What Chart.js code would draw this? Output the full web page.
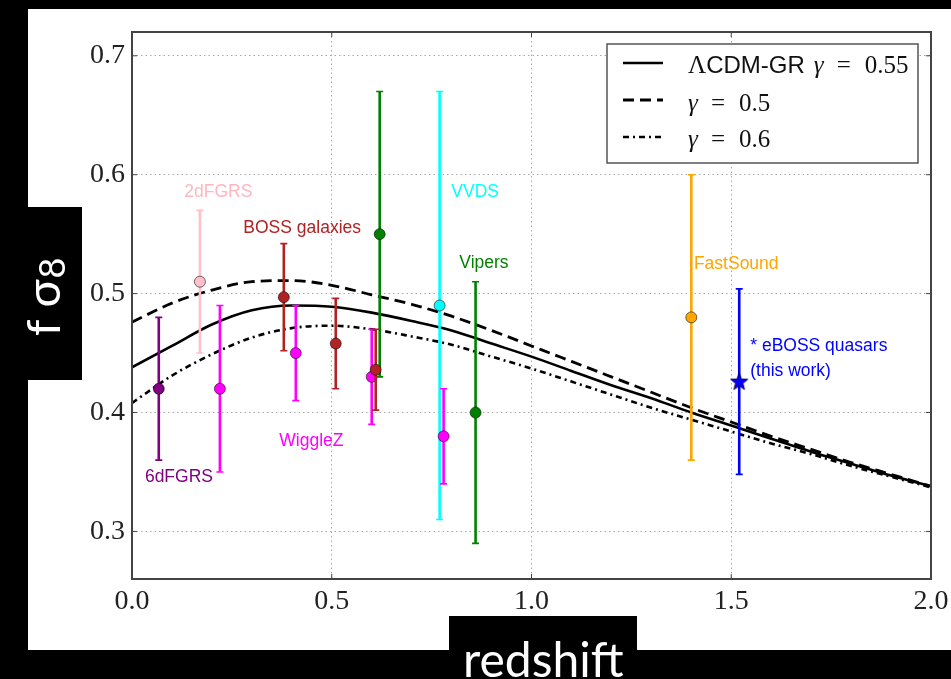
<!DOCTYPE html>
<html>
<head>
<meta charset="utf-8">
<script src="https://cdn.jsdelivr.net/npm/chart.js@4.4.0/dist/chart.umd.min.js"></script>
<style>
  html, body { margin: 0; padding: 0; background: #000; width: 951px; height: 679px; overflow: hidden; }
  canvas { display: block; }
</style>
</head>
<body>
<canvas id="c" width="951" height="679"></canvas>
<script>
// model curves (fσ8 vs redshift)
const zGrid = [0, 0.1, 0.2, 0.3, 0.4, 0.5, 0.6, 0.7, 0.8, 0.9, 1.0, 1.1, 1.2, 1.3, 1.4, 1.5, 1.6, 1.7, 1.8, 1.9, 2.0]
const fs8GR = [0.438, 0.456, 0.474, 0.486, 0.490, 0.489, 0.484, 0.477, 0.469, 0.458, 0.447, 0.435, 0.423, 0.412, 0.400, 0.389, 0.378, 0.367, 0.357, 0.347, 0.338]
const fs8Gamma05 = [0.476, 0.492, 0.503, 0.510, 0.511, 0.507, 0.499, 0.491, 0.481, 0.469, 0.456, 0.443, 0.430, 0.417, 0.404, 0.392, 0.380, 0.369, 0.358, 0.348, 0.338]
const fs8Gamma06 = [0.408, 0.431, 0.449, 0.463, 0.471, 0.473, 0.470, 0.464, 0.457, 0.447, 0.437, 0.426, 0.415, 0.404, 0.394, 0.384, 0.374, 0.365, 0.355, 0.346, 0.337]

// measurements
const z6dF = [0.067], fs6dF = [0.42], err6dF = [0.06]
const z2dF = [0.17], fs2dF = [0.51], err2dF = [0.06]
const zBossGal = [0.38, 0.51, 0.61], fsBossGal = [0.497, 0.458, 0.436], errBossGal = [0.045, 0.038, 0.034]
const zWiggleZ = [0.22, 0.41, 0.60, 0.78], fsWiggleZ = [0.42, 0.45, 0.43, 0.38], errWiggleZ = [0.07, 0.04, 0.04, 0.04]
const zVipers = [0.62, 0.86], fsVipers = [0.55, 0.40], errVipers = [0.12, 0.11]
const zVVDS = [0.77], fsVVDS = [0.49], errVVDS = [0.18]
const zFastSound = [1.40], fsFastSound = [0.48], errFastSound = [0.12]
const zQuasars = [1.52], fsQuasars = [0.426], errQuasars = [0.078]

const xTicks = [0.0, 0.5, 1.0, 1.5, 2.0]
const yTicks = [0.3, 0.4, 0.5, 0.6, 0.7]

const pts = (xs, ys) => xs.map((x, i) => ({ x, y: ys[i] }))

// filled five point star for the eBOSS point
function makeStar(fill, edge) {
    const c = document.createElement("canvas")
    c.width = 20; c.height = 20
    const g = c.getContext("2d")
    g.beginPath()
    for (let i = 0; i < 10; i++) {
        const r = i % 2 === 0 ? 9 : 3.8
        const a = -Math.PI / 2 + i * Math.PI / 5
        g.lineTo(10 + r * Math.cos(a), 10.5 + r * Math.sin(a))
    }
    g.closePath()
    g.fillStyle = fill
    g.fill()
    g.lineWidth = 1
    g.strokeStyle = edge
    g.stroke()
    return c
}

function survey(label, xs, ys, errs, color, extra) {
    return Object.assign({
        type: "scatter",
        label,
        data: pts(xs, ys),
        errors: errs,
        backgroundColor: color,
        barColor: color,
        borderColor: "rgba(0,0,0,0.55)",
        borderWidth: 1,
        pointRadius: 5.5,
        pointHoverRadius: 5.5,
        order: 1
    }, extra || {})
}

function curve(label, ys, dash, width) {
    return {
        type: "line",
        label,
        data: pts(zGrid, ys),
        borderColor: "#000",
        borderWidth: width,
        borderDash: dash,
        pointRadius: 0,
        cubicInterpolationMode: "monotone",
        fill: false,
        order: 2
    }
}

const surveyLabels = [
    { text: "2dFGRS", z: 0.216, f: 0.585, color: "#FFB6C1", align: "center" },
    { text: "BOSS galaxies", z: 0.426, f: 0.555, color: "#B22222", align: "center" },
    { text: "WiggleZ", z: 0.449, f: 0.3755, color: "#FF00FF", align: "center" },
    { text: "6dFGRS", z: 0.1175, f: 0.3458, color: "#800080", align: "center" },
    { text: "VVDS", z: 0.859, f: 0.585, color: "#00FFFF", align: "center" },
    { text: "Vipers", z: 0.881, f: 0.5254, color: "#008000", align: "center" },
    { text: "FastSound", z: 1.5125, f: 0.525, color: "#FFA500", align: "center" },
    { text: "* eBOSS quasars", z: 1.5475, f: 0.4558, color: "#0000FF", align: "left" },
    { text: "(this work)", z: 1.5475, f: 0.4346, color: "#0000FF", align: "left" }
]

// black surround, white figure
const background = {
    id: "background",
    beforeDraw(chart) {
        const ctx = chart.ctx
        ctx.save()
        ctx.fillStyle = "#000"
        ctx.fillRect(0, 0, chart.width, chart.height)
        ctx.fillStyle = "#fff"
        ctx.fillRect(28, 9, 923, 641)
        ctx.restore()
    },
    afterDraw(chart) {
        const ctx = chart.ctx
        ctx.save()
        ctx.fillStyle = "#000"
        ctx.fillRect(0, 207, 82, 173)
        ctx.fillRect(449, 616, 188, 63)
        ctx.fillStyle = "#fff"
        // x title
        ctx.font = "48px Lato"
        ctx.textBaseline = "alphabetic"
        ctx.fillText("redshift", 463, 677)
        // y title, rotated
        ctx.translate(60, 336)
        ctx.rotate(-Math.PI / 2)
        ctx.font = "47px Lato"
        ctx.fillText("f σ", 0, 0)
        const w = ctx.measureText("f σ").width
        ctx.font = "36px Lato"
        ctx.fillText("8", w + 1, 5)
        ctx.restore()
    }
}

// vertical error bars with small caps
const errorBars = {
    id: "errorBars",
    beforeDatasetDraw(chart, args) {
        const ds = chart.data.datasets[args.index]
        if (!ds.errors) return
        const xs = chart.scales.x, ys = chart.scales.y
        const ctx = chart.ctx
        ctx.save()
        ctx.strokeStyle = ds.barColor
        ds.data.forEach((p, i) => {
            const px = xs.getPixelForValue(p.x)
            const top = ys.getPixelForValue(p.y + ds.errors[i])
            const bot = ys.getPixelForValue(p.y - ds.errors[i])
            ctx.lineWidth = 2.6
            ctx.beginPath()
            ctx.moveTo(px, top)
            ctx.lineTo(px, bot)
            ctx.stroke()
            ctx.lineWidth = 1.6
            ctx.beginPath()
            ctx.moveTo(px - 3.5, top); ctx.lineTo(px + 3.5, top)
            ctx.moveTo(px - 3.5, bot); ctx.lineTo(px + 3.5, bot)
            ctx.stroke()
        })
        ctx.restore()
    }
}

// frame, inward ticks, survey names and legend
const decorations = {
    id: "decorations",
    afterDatasetsDraw(chart) {
        const ctx = chart.ctx
        const ca = chart.chartArea
        const xs = chart.scales.x, ys = chart.scales.y
        ctx.save()

        ctx.font = "17.5px 'Liberation Sans'"
        ctx.textBaseline = "middle"
        surveyLabels.forEach(l => {
            ctx.fillStyle = l.color
            ctx.textAlign = l.align
            ctx.fillText(l.text, xs.getPixelForValue(l.z), ys.getPixelForValue(l.f))
        })

        ctx.strokeStyle = "#444"
        ctx.lineWidth = 1
        xTicks.forEach(v => {
            const px = xs.getPixelForValue(v)
            ctx.beginPath()
            ctx.moveTo(px, ca.bottom); ctx.lineTo(px, ca.bottom - 5)
            ctx.moveTo(px, ca.top); ctx.lineTo(px, ca.top + 5)
            ctx.stroke()
        })
        yTicks.forEach(v => {
            const py = ys.getPixelForValue(v)
            ctx.beginPath()
            ctx.moveTo(ca.left, py); ctx.lineTo(ca.left + 5, py)
            ctx.moveTo(ca.right, py); ctx.lineTo(ca.right - 5, py)
            ctx.stroke()
        })
        ctx.lineWidth = 2
        ctx.strokeRect(ca.left, ca.top, ca.right - ca.left, ca.bottom - ca.top)

        // legend
        const lx = ca.right - 324, ly = ca.top + 12
        ctx.fillStyle = "#fff"
        ctx.fillRect(lx, ly, 311, 119)
        ctx.strokeStyle = "#555"
        ctx.lineWidth = 1.5
        ctx.strokeRect(lx, ly, 311, 119)

        const curves = chart.data.datasets.filter(d => d.type === "line")
        const rowY = [ly + 19, ly + 56, ly + 93]
        curves.forEach((d, i) => {
            ctx.strokeStyle = "#000"
            ctx.lineWidth = d.borderWidth
            ctx.setLineDash(d.borderDash || [])
            ctx.beginPath()
            ctx.moveTo(lx + 16, rowY[i]); ctx.lineTo(lx + 56, rowY[i])
            ctx.stroke()
        })
        ctx.setLineDash([])

        ctx.fillStyle = "#111"
        ctx.textAlign = "left"
        ctx.textBaseline = "alphabetic"
        const drawGamma = (x, base, value) => {
            ctx.font = "italic 25px 'Liberation Serif'"
            ctx.fillText("γ", x, base)
            ctx.font = "25px 'Liberation Serif'"
            ctx.textAlign = "center"
            ctx.fillText("=", x + 30, base)
            ctx.textAlign = "left"
            ctx.fillText(value, x + 51, base)
        }
        let x = lx + 81
        ctx.font = "25px 'Liberation Serif'"
        ctx.fillText("Λ", x, rowY[0] + 10)
        x += ctx.measureText("Λ").width
        ctx.font = "24px 'Liberation Sans'"
        ctx.fillText("CDM-GR", x, rowY[0] + 10)
        x += ctx.measureText("CDM-GR").width + 9
        drawGamma(x, rowY[0] + 10, curves[0].gammaText)
        drawGamma(lx + 81, rowY[1] + 11, curves[1].gammaText)
        drawGamma(lx + 81, rowY[2] + 10, curves[2].gammaText)
        ctx.restore()
    }
}

const tickFont = { family: "'Liberation Serif'", size: 28 }

const datasets = [
    survey("eBOSS quasars", zQuasars, fsQuasars, errQuasars, "#0000FF", { pointStyle: makeStar("#0000FF", "#000060") }),
    survey("FastSound", zFastSound, fsFastSound, errFastSound, "#FFA500"),
    survey("BOSS galaxies", zBossGal, fsBossGal, errBossGal, "#B22222"),
    survey("Vipers", zVipers, fsVipers, errVipers, "#008000"),
    survey("WiggleZ", zWiggleZ, fsWiggleZ, errWiggleZ, "#FF00FF"),
    survey("VVDS", zVVDS, fsVVDS, errVVDS, "#00FFFF"),
    survey("2dFGRS", z2dF, fs2dF, err2dF, "#FFC0CB"),
    survey("6dFGRS", z6dF, fs6dF, err6dF, "#800080"),
    Object.assign(curve("ΛCDM-GR γ = 0.55", fs8GR, [], 2.6), { gammaText: "0.55" }),
    Object.assign(curve("γ = 0.5", fs8Gamma05, [11, 6], 2.8), { gammaText: "0.5" }),
    Object.assign(curve("γ = 0.6", fs8Gamma06, [6, 4, 2, 4], 2.6), { gammaText: "0.6" })
]

new Chart(document.getElementById("c").getContext("2d"), {
    type: "scatter",
    data: { datasets },
    plugins: [background, errorBars, decorations],
    options: {
        responsive: false,
        animation: false,
        devicePixelRatio: 1,
        layout: { padding: { left: 0, right: 20, top: 32, bottom: 0 } },
        plugins: { legend: { display: false }, tooltip: { enabled: false } },
        scales: {
            x: {
                type: "linear",
                min: 0, max: 2,
                afterBuildTicks: s => { s.ticks = xTicks.map(v => ({ value: v })) },
                afterFit: s => { s.height = 100; s.paddingLeft = 0; s.paddingRight = 0 },
                ticks: { font: tickFont, color: "#222", padding: 6, maxRotation: 0, autoSkip: false, callback: v => v.toFixed(1) },
                grid: { color: "#a8a8a8", lineWidth: 1, drawTicks: false },
                border: { display: false, dash: [1.5, 3] }
            },
            y: {
                type: "linear",
                min: 0.26, max: 0.72,
                afterBuildTicks: s => { s.ticks = yTicks.map(v => ({ value: v })) },
                afterFit: s => { s.width = 132; s.paddingTop = 0; s.paddingBottom = 0 },
                ticks: { font: tickFont, color: "#222", padding: 7, autoSkip: false, callback: v => v.toFixed(1) },
                grid: { color: "#a8a8a8", lineWidth: 1, drawTicks: false },
                border: { display: false, dash: [1.5, 3] }
            }
        }
    }
})
</script>
</body>
</html>
